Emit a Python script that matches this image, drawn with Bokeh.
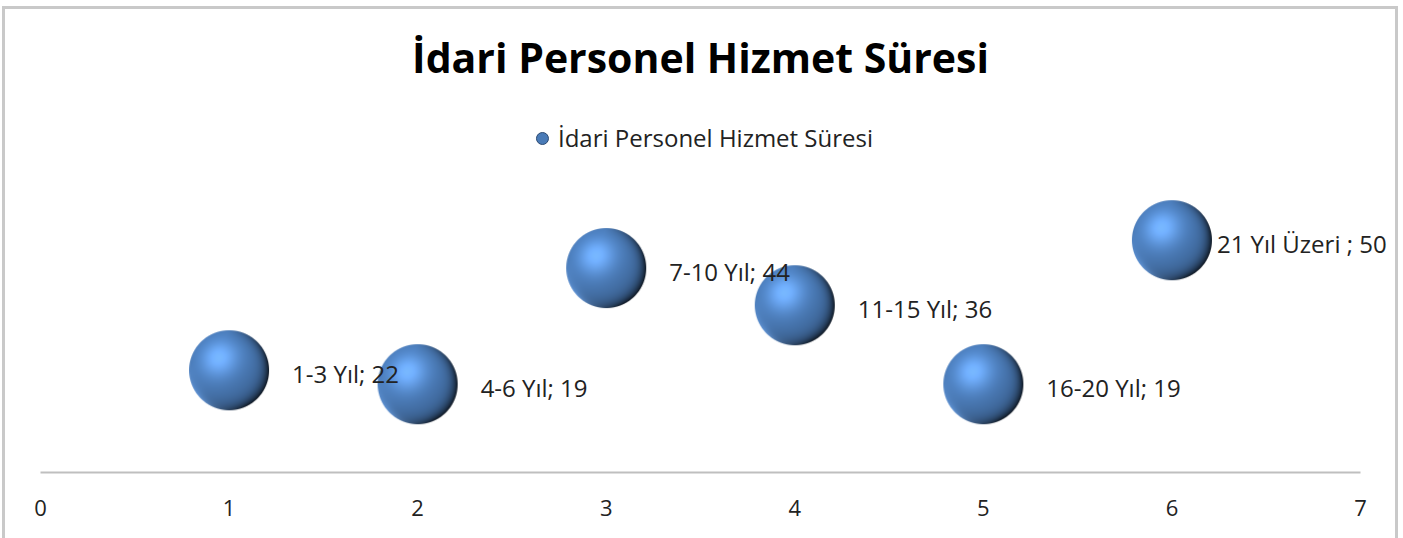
import numpy as np
from bokeh.plotting import figure
from bokeh.models import (ColumnDataSource, Range1d, FixedTicker, Legend, LegendItem,
                          LabelSet)
from bokeh.core.properties import value
from bokeh.embed import file_html
from bokeh.resources import INLINE

# ---- data ----
positions = [1, 2, 3, 4, 5, 6]
counts = [22, 19, 44, 36, 19, 50]
labels = ["1-3 Yıl; 22", "4-6 Yıl; 19", "7-10 Yıl; 44", "11-15 Yıl; 36",
          "16-20 Yıl; 19", "21 Yıl Üzeri ; 50"]
label_dx = [63, 63, 63, 63, 63, 45]
x_ticks = [0, 1, 2, 3, 4, 5, 6, 7]
title_text = "İdari Personel Hizmet Süresi"
series_name = "İdari Personel Hizmet Süresi"

FONT = "Open Sans"

# ---- sphere texture (style only) ----
D = 80
yy, xx = np.mgrid[0:D, 0:D]
u = (xx + 0.5 - D / 2) / (D / 2)
v = (yy + 0.5 - D / 2) / (D / 2)
r = np.sqrt(u ** 2 + v ** 2)
nz = np.sqrt(np.clip(1 - r ** 2, 0, 1))
L = np.array([-0.45, -0.55, 0.70]); L = L / np.linalg.norm(L)
ndl = u * L[0] + v * L[1] + nz * L[2]
half = np.clip(ndl * 0.5 + 0.5, 0, 1)
H = L + np.array([0, 0, 1.0]); H = H / np.linalg.norm(H)
ndh = np.clip(u * H[0] + v * H[1] + nz * H[2], 0, 1)
spec = ndh ** 10
base = np.array([76, 125, 186], dtype=float)
shade = 0.58 + 0.5 * half
edge = np.clip(r, 0, 1) ** 7 * np.clip(0.75 * u + 0.35 * v + 0.35, 0, 1)
shade = shade * (1 - 0.75 * edge)
rim = np.clip(r, 0, 1) ** 10 * np.clip(v + 0.2, 0, 1) * np.clip(-u + 0.4, 0, 1) * 0.28
rgb = base[None, None, :] * shade[..., None] + 255 * (0.28 * spec + rim)[..., None] * np.array([0.55, 0.72, 0.95])
rgb = np.clip(rgb, 0, 255)
alpha = np.clip((1 - r) * D / 2 + 0.5, 0, 1) * 255
tex = np.zeros((D, D, 4), dtype=np.uint8)
tex[..., :3] = rgb.astype(np.uint8)
tex[..., 3] = alpha.astype(np.uint8)
tex = tex[::-1].copy()
tex32 = tex.view(dtype=np.uint32).reshape((D, D))

src = ColumnDataSource(dict(x=positions, y=counts, label=labels, dx=label_dx,
                            img=[tex32] * len(positions)))

# plot frame spans the full inner width; axis line is bounded to 0..7
p = figure(width=1390, height=529, output_backend="svg", toolbar_location=None,
           title=title_text, x_range=Range1d(-0.1856, 7.1856), y_range=Range1d(0, 82.45),
           min_border_left=0, min_border_right=6, min_border_top=80,
           min_border_bottom=69)
p.styles = {"box-sizing": "content-box", "margin-left": "2px", "margin-top": "6px",
            "border-top": "3px solid #c9c9c9", "border-left": "3px solid #c9c9c9",
            "border-right": "3px solid #c9c9c9"}

p.title.align = "center"
p.title.text_font = FONT
p.title.text_font_style = "bold"
p.title.text_font_size = "41px"
p.title.text_color = "#000000"

p.xgrid.visible = False
p.ygrid.visible = False
p.yaxis.visible = False
p.outline_line_color = None
p.background_fill_color = "white"
p.border_fill_color = "white"

xa = p.xaxis[0]
xa.ticker = FixedTicker(ticks=x_ticks)
xa.bounds = (x_ticks[0], x_ticks[-1])
xa.minor_tick_line_color = None
xa.major_tick_in = 0
xa.major_tick_out = 0
xa.axis_line_color = "#bfbfbf"
xa.axis_line_width = 2
xa.major_label_text_font = FONT
xa.major_label_text_font_size = "22px"
xa.major_label_text_color = "#222222"
xa.major_label_standoff = 27

sc = p.scatter("x", "y", source=src, size=76, fill_color="#4a7bb7",
               line_color="#2c4a72", line_width=1)
p.image_rgba(image="img", x="x", y="y", dw=D, dh=D, dw_units="screen",
             dh_units="screen", anchor="center", source=src)

lbl = LabelSet(x="x", y="y", text="label", source=src, x_offset="dx", y_offset=-3,
               text_font=value(FONT), text_font_size="24px", text_color="#222222",
               text_align="left", text_baseline="middle")
p.add_layout(lbl)

legend = Legend(items=[LegendItem(label=series_name, renderers=[sc])],
                location="top_center", orientation="horizontal",
                background_fill_alpha=0, border_line_alpha=0, padding=0,
                margin=32, glyph_width=30, glyph_height=30, label_standoff=1,
                label_text_font=FONT, label_text_font_size="24px",
                label_text_color="#222222")
p.add_layout(legend)

open("out.html", "w").write(file_html(p, INLINE))
